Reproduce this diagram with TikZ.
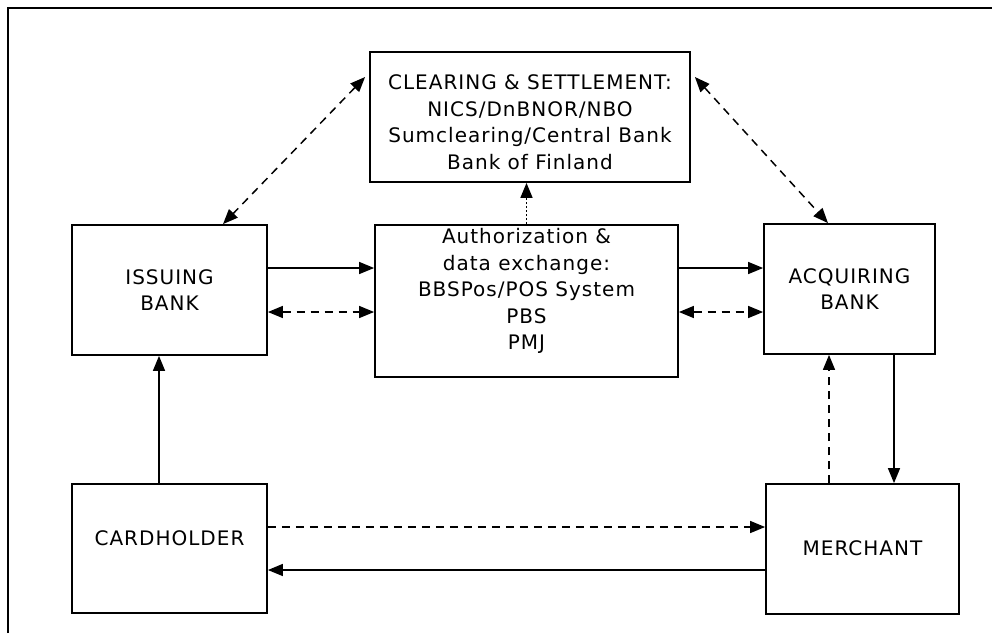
\documentclass[tikz,border=0pt]{standalone}
\usepackage{fontspec}
\setmainfont{DejaVu Sans}[LetterSpace=5]
\usetikzlibrary{arrows.meta}
\begin{document}
\begin{tikzpicture}[x=1pt,y=-1pt,
  box/.style={draw,line width=1.8pt,minimum width=#1,inner sep=0pt},
  lbl/.style={font=\fontsize{20}{26.5}\selectfont,align=center},
  conn/.style={line width=1.5pt},
  tip/.style={-{Triangle[length=15pt,width=12pt]}},
  dtip/.style={{Triangle[length=15pt,width=12pt]}-{Triangle[length=15pt,width=12pt]}},
  dsh/.style={dash pattern=on 8pt off 6pt},
  dot/.style={dash pattern=on 2pt off 2pt}]
\useasboundingbox (0,0) rectangle (992,633);
% frame
\draw[line width=2pt] (7.5,633) -- (7.5,7.5) -- (992,7.5);
% boxes
\node[box=320pt,minimum height=130pt] (clr) at (530,117) {};
\node[lbl] (clrt) at (530,122) {CLEARING \& SETTLEMENT:\\NICS/DnBNOR/NBO\\Sumclearing/Central Bank\\Bank of Finland};
\node[box=195pt,minimum height=130pt] (iss) at (169.5,290) {};
\node[lbl] (isst) at (169.5,290) {ISSUING\\BANK};
\node[box=303pt,minimum height=152pt] (auth) at (526.5,301) {};
\node[lbl] (autht) at (526.5,291) {Authorization \&\\data exchange:\\BBSPos/POS System\\PBS\\PMJ};
\node[box=171pt,minimum height=130pt] (acq) at (849.5,289) {};
\node[lbl] (acqt) at (849.5,289) {ACQUIRING\\BANK};
\node[box=195pt,minimum height=129pt] (ch) at (169.5,548.5) {};
\node[lbl] (cht) at (169.5,538) {CARDHOLDER};
\node[box=193pt,minimum height=130pt] (mer) at (862.5,549) {};
\node[lbl] (mert) at (862.5,548) {MERCHANT};
% helper coordinates
\coordinate (ys) at (0,268);
\coordinate (yd) at (0,312);
\coordinate (ydc) at (0,527);
\coordinate (ysc) at (0,570);
\coordinate (xci) at (159,0);
\coordinate (xmd) at (829,0);
\coordinate (xms) at (894,0);
% connectors
\draw[conn,tip] (iss.east |- ys) -- (auth.west |- ys);
\draw[conn,dsh,dtip] (iss.east |- yd) -- (auth.west |- yd);
\draw[conn,tip] (auth.east |- ys) -- (acq.west |- ys);
\draw[conn,dsh,dtip] (auth.east |- yd) -- (acq.west |- yd);
\draw[conn,dot,tip] (auth.north) -- (auth.north |- clr.south);
\draw[conn,dsh,dtip] ([xshift=-4pt,yshift=40pt]clr.west) -- ([xshift=53.5pt]iss.north);
\draw[conn,dsh,dtip] ([xshift=4pt,yshift=40pt]clr.east) -- ([xshift=-21.5pt]acq.north);
\draw[conn,tip] (ch.north -| xci) -- (iss.south -| xci);
\draw[conn,dsh,tip] (mer.north -| xmd) -- (acq.south -| xmd);
\draw[conn,tip] (acq.south -| xms) -- (mer.north -| xms);
\draw[conn,dsh,tip] (ch.east |- ydc) -- (mer.west |- ydc);
\draw[conn,tip] (mer.west |- ysc) -- (ch.east |- ysc);
\end{tikzpicture}
\end{document}
